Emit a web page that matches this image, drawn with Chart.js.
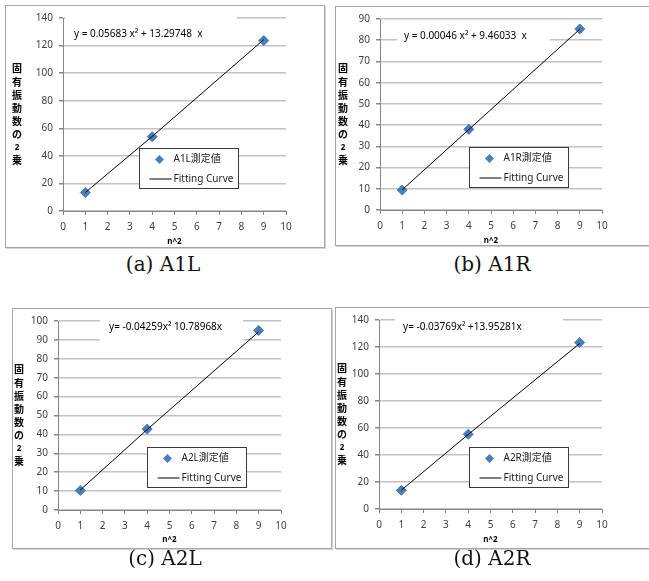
<!DOCTYPE html>
<html>
<head>
<meta charset="utf-8">
<script src="https://cdn.jsdelivr.net/npm/chart.js@4/dist/chart.umd.min.js"></script>
<style>
  html, body { margin: 0; padding: 0; background: #fff; }
  body { position: relative; width: 649px; height: 581px; overflow: hidden; }
  .panel { position: absolute; border: 1px solid #a6a6a6; box-shadow: 1px 1px 0 #d4d4d4; background: #fff; }
  .panel canvas { display: block; }
  .cap { position: absolute; width: 200px; text-align: center; font-family: "DejaVu Serif", "Liberation Serif", serif; font-size: 20px; color: #111; }
</style>
</head>
<body>
<div class="panel" style="left:5px;top:5px;width:318px;height:241px"><canvas id="cA" width="318" height="241"></canvas></div>
<div class="panel" style="left:335px;top:6px;width:328px;height:238px"><canvas id="cB" width="328" height="238"></canvas></div>
<div class="panel" style="left:12px;top:308px;width:318px;height:239px"><canvas id="cC" width="318" height="239"></canvas></div>
<div class="panel" style="left:335px;top:307px;width:328px;height:240px"><canvas id="cD" width="328" height="240"></canvas></div>
<div class="cap" style="left:63px;top:252px">(a) A1L</div>
<div class="cap" style="left:392px;top:252px">(b) A1R</div>
<div class="cap" style="left:65px;top:546px">(c) A2L</div>
<div class="cap" style="left:392px;top:546px">(d) A2R</div>
<script>
// n^2 の値
const nSquared = [1, 4, 9];

// 測定値 (固有振動数の2乗)
const a1lMeasured = [13.4, 53.9, 123.6];
const a1rMeasured = [9.4, 38.0, 85.3];
const a2lMeasured = [10.3, 42.8, 95.0];
const a2rMeasured = [13.8, 55.3, 123.3];

// 近似曲線
const a1lFit = [13.4, 54.1, 124.3];
const a1rFit = [9.5, 37.9, 85.2];
const a2lFit = [10.6, 42.6, 94.3];
const a2rFit = [13.9, 55.2, 122.6];

const xTickMax = 10;
const yMaxA1L = 140, yStepA1L = 20;
const yMaxA1R = 90, yStepA1R = 10;
const yMaxA2L = 100, yStepA2L = 10;
const yMaxA2R = 140, yStepA2R = 20;

const eqA1L = "y = 0.05683 x\u00b2 + 13.29748  x";
const eqA1R = "y = 0.00046 x\u00b2 + 9.46033  x";
const eqA2L = "y= -0.04259x\u00b2 10.78968x";
const eqA2R = "y= -0.03769x\u00b2 +13.95281x";

const yTitle = "固有振動数の2乗";
const xTitle = "n^2";

const axisColor = "#868686";
const gridColor = "#c2c2c2";
const markColor = "#4a7ebb";
const textColor = "#404040";
const uiFont = '"Noto Sans", "Noto Sans CJK JP", sans-serif';

function pts(ys) {
  return nSquared.map((x, i) => ({ x: x, y: ys[i] }));
}

// 式の白枠・凡例・縦書きの軸タイトル
const overlay = {
  id: "overlay",
  beforeDatasetsDraw(chart, args, o) {
    const c = chart.ctx, sx = chart.scales.x, sy = chart.scales.y;
    const b = o.eqBox;
    const x0 = sx.getPixelForValue(b[0]), x1 = sx.getPixelForValue(b[1]);
    const y0 = sy.getPixelForValue(b[2]), y1 = sy.getPixelForValue(b[3]);
    c.save();
    c.fillStyle = "#fff";
    c.fillRect(x0, y0, x1 - x0, y1 - y0);
    c.fillStyle = "#000";
    c.font = "10px " + uiFont;
    c.textBaseline = "middle";
    c.textAlign = "left";
    c.fillText(o.eq, sx.getPixelForValue(o.eqAt[0]), sy.getPixelForValue(o.eqAt[1]));
    c.restore();
  },
  afterDatasetsDraw(chart, args, o) {
    const c = chart.ctx, sx = chart.scales.x, sy = chart.scales.y;
    const lx = Math.round(sx.getPixelForValue(o.legendAt[0])) + 0.5;
    const ly = Math.round(sy.getPixelForValue(o.legendAt[1])) + 0.5;
    const w = 99, h = 40;
    const ds = chart.data.datasets;
    c.save();
    c.fillStyle = "#fff";
    c.fillRect(lx, ly, w, h);
    c.strokeStyle = "#3a3a3a";
    c.lineWidth = 1;
    c.strokeRect(lx, ly, w, h);
    // 測定値
    const r = 4.5, mx = lx + 20, my = ly + 11;
    c.fillStyle = ds[0].backgroundColor;
    c.beginPath();
    c.moveTo(mx, my - r); c.lineTo(mx + r, my); c.lineTo(mx, my + r); c.lineTo(mx - r, my);
    c.closePath(); c.fill();
    c.fillStyle = "#222";
    c.font = "10px " + uiFont;
    c.textBaseline = "middle";
    c.fillText(ds[0].label, lx + 34, my);
    // 近似曲線
    const fy = ly + 30.5;
    c.strokeStyle = ds[1].borderColor;
    c.beginPath(); c.moveTo(lx + 10, fy); c.lineTo(lx + 32, fy); c.stroke();
    c.fillText(ds[1].label, lx + 34, fy);
    c.restore();
  },
  afterDraw(chart, args, o) {
    const c = chart.ctx, a = chart.chartArea;
    const chars = Array.from(yTitle);
    const mid = (a.top + a.bottom) / 2;
    c.save();
    c.fillStyle = "#000";
    c.font = 'bold 10px "Noto Sans CJK JP", sans-serif';
    c.textAlign = "center";
    c.textBaseline = "middle";
    chars.forEach((ch, i) => {
      const f = /[0-9]/.test(ch) ? 'bold 8px "Noto Sans", sans-serif' : 'bold 10px "Noto Sans CJK JP", sans-serif';
      c.font = f;
      c.fillText(ch, o.titleX, mid + (i - (chars.length - 1) / 2) * 13.1);
    });
    c.restore();
  }
};

function makeChart(id, p) {
  return new Chart(document.getElementById(id), {
    type: "scatter",
    data: {
      datasets: [
        {
          label: p.label,
          data: pts(p.measured),
          pointStyle: "rectRot",
          pointRadius: 5,
          backgroundColor: markColor,
          borderColor: "#4377b5",
          borderWidth: 1,
          order: 1
        },
        {
          label: "Fitting Curve",
          data: pts(p.fit),
          showLine: true,
          pointRadius: 0,
          borderColor: "#000",
          borderWidth: 1,
          order: 0
        }
      ]
    },
    options: {
      responsive: false,
      animation: false,
      events: [],
      layout: { padding: { left: 0, right: p.right, top: p.top, bottom: 0 } },
      plugins: {
        legend: { display: false },
        tooltip: { enabled: false },
        overlay: {
          eq: p.eq, eqAt: p.eqAt, eqBox: p.eqBox,
          legendAt: p.legendAt, titleX: p.titleX
        }
      },
      scales: {
        x: {
          type: "linear",
          min: 0,
          max: xTickMax,
          ticks: { stepSize: 1, padding: 6, color: textColor, font: { size: 10, family: uiFont } },
          grid: { drawOnChartArea: false, tickLength: 4, tickColor: axisColor },
          border: { color: axisColor },
          title: {
            display: true, text: xTitle, color: "#000",
            font: { size: 8, weight: "bold", family: uiFont, lineHeight: 1 },
            padding: { top: 0, bottom: p.xTitlePad }
          },
          afterFit(s) { s.height = p.bottom; }
        },
        y: {
          min: 0,
          max: p.yMax,
          ticks: { stepSize: p.yStep, padding: 6, color: textColor, font: { size: 10, family: uiFont } },
          grid: { color: gridColor, lineWidth: 1.5, tickLength: 4, tickColor: axisColor },
          border: { color: axisColor },
          afterFit(s) { s.width = p.left; }
        }
      }
    },
    plugins: [overlay]
  });
}

makeChart("cA", {
  label: "A1L測定値", measured: a1lMeasured, fit: a1lFit,
  yMax: yMaxA1L, yStep: yStepA1L, eq: eqA1L,
  eqAt: [0.49, 128.5], eqBox: [0.1, 7.8, 143.6, 122.5], legendAt: [3.41, 45.5],
  left: 57, right: 38, top: 11, bottom: 36, xTitlePad: 1, titleX: 11
});
makeChart("cB", {
  label: "A1R測定値", measured: a1rMeasured, fit: a1rFit,
  yMax: yMaxA1R, yStep: yStepA1R, eq: eqA1R,
  eqAt: [1.08, 82.0], eqBox: [0.77, 7.66, 87.6, 75.4], legendAt: [4.0, 29.7],
  left: 44, right: 62, top: 12, bottom: 35, xTitlePad: 0, titleX: 7
});
makeChart("cC", {
  label: "A2L測定値", measured: a2lMeasured, fit: a2lFit,
  yMax: yMaxA2L, yStep: yStepA2L, eq: eqA2L,
  eqAt: [2.29, 96.8], eqBox: [1.88, 8.3, 103.2, 86.8], legendAt: [3.99, 33.2],
  left: 45, right: 50, top: 11, bottom: 38, xTitlePad: 4, titleX: 6
});
makeChart("cD", {
  label: "A2R測定値", measured: a2rMeasured, fit: a2rFit,
  yMax: yMaxA2R, yStep: yStepA2R, eq: eqA2R,
  eqAt: [1.08, 134.9], eqBox: [0.72, 8.25, 144.4, 123.5], legendAt: [4.04, 45.7],
  left: 43, right: 62, top: 11, bottom: 39, xTitlePad: 4, titleX: 6
});
</script>
</body>
</html>
